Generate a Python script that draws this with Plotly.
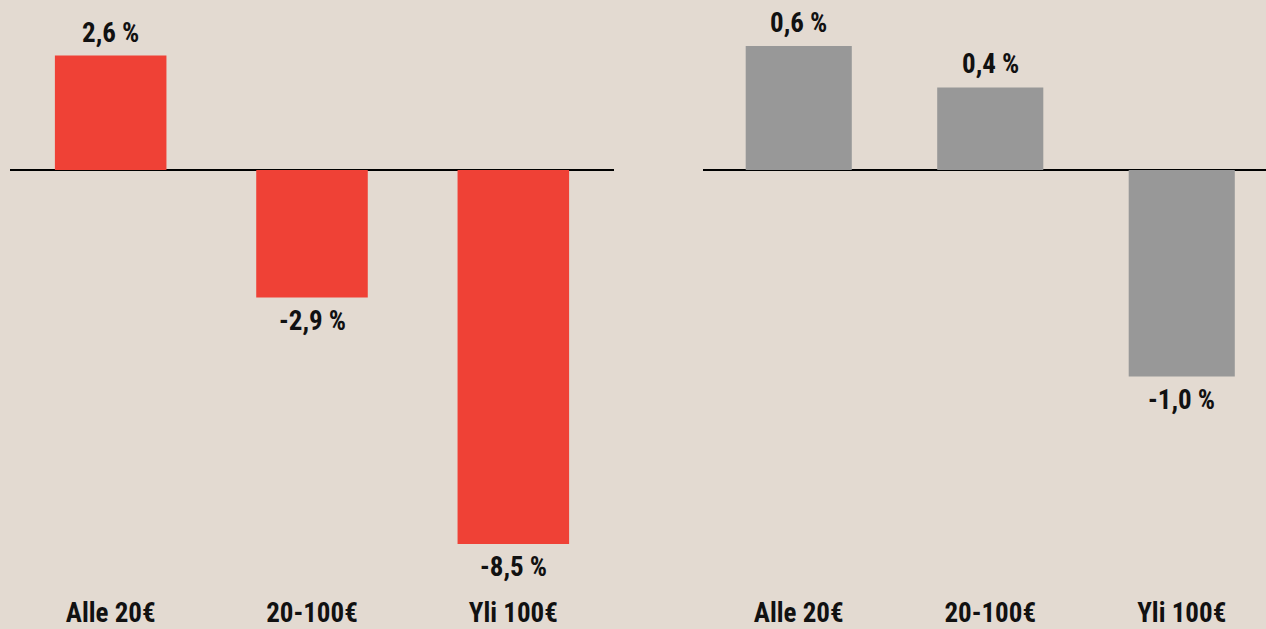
import plotly.graph_objects as go

categories = ["Alle 20€", "20-100€", "Yli 100€"]
left_values = [2.6, -2.9, -8.5]
right_values = [0.6, 0.4, -1.0]
left_labels = ["2,6 %", "-2,9 %", "-8,5 %"]
right_labels = ["0,6 %", "0,4 %", "-1,0 %"]

BG = "#E3DAD1"
RED = "#EF4136"
GRAY = "#989898"
FONT = "Roboto Condensed, Roboto, sans-serif"

W, H = 1266, 629
fig = go.Figure()
fig.add_trace(go.Bar(x=categories, y=left_values, marker_color=RED,
                     marker_line_width=0, xaxis="x", yaxis="y", hoverinfo="skip"))
fig.add_trace(go.Bar(x=categories, y=right_values, marker_color=GRAY,
                     marker_line_width=0, xaxis="x2", yaxis="y2", hoverinfo="skip"))

annotations = []
for xref, yref, vals, labs in [("x", "y", left_values, left_labels),
                               ("x2", "y2", right_values, right_labels)]:
    for c, v, t in zip(categories, vals, labs):
        annotations.append(dict(
            x=c, y=v, xref=xref, yref=yref, text=t, showarrow=False,
            yanchor="bottom" if v >= 0 else "top",
            yshift=5 if v >= 0 else -5,
            font=dict(family=FONT, size=27, color="#111111", weight="bold"),
        ))

plot_bottom = 594
zero_y = 170
left_scale = 44.0
right_scale = 206.5
left_range = [-(plot_bottom - zero_y) / left_scale, zero_y / left_scale]
right_range = [-(plot_bottom - zero_y) / right_scale, zero_y / right_scale]

tickfont = dict(family=FONT, size=27, color="#111111", weight="bold")
common_x = dict(showgrid=False, showline=False, ticks="", tickfont=tickfont, fixedrange=True)
common_y = dict(showgrid=False, showticklabels=False, zeroline=True, zerolinecolor="#000000",
                zerolinewidth=2, showline=False, fixedrange=True)

fig.update_layout(
    width=W, height=H,
    margin=dict(l=0, r=0, t=0, b=H - plot_bottom),
    paper_bgcolor=BG, plot_bgcolor=BG,
    showlegend=False, bargap=0.446,
    xaxis=dict(domain=[10 / W, 614 / W], range=[-0.5, 2.5], **common_x),
    xaxis2=dict(domain=[703 / W, 1.0], range=[-0.5, (W - 703) / 191.5 - 0.5], anchor="y2", **common_x),
    yaxis=dict(range=left_range, anchor="x", **common_y),
    yaxis2=dict(range=right_range, anchor="x2", **common_y),
    annotations=annotations,
)

fig.write_html("out.html", config={"displayModeBar": False},
               post_script="document.body.style.margin='0';")
